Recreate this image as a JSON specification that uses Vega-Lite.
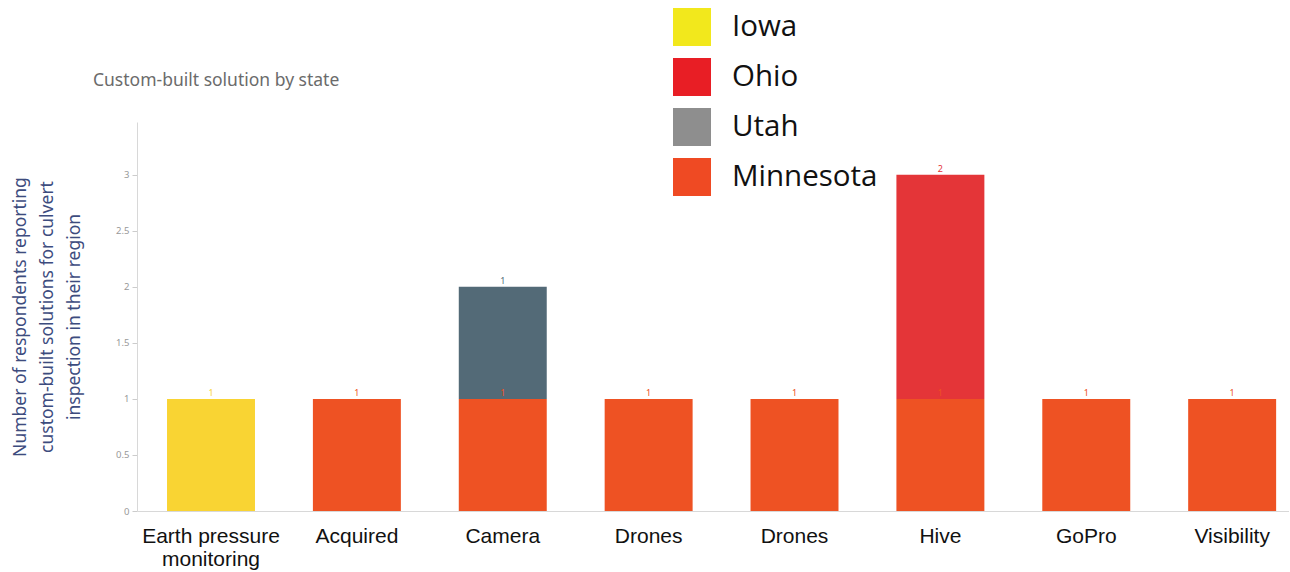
{
  "$schema": "https://vega.github.io/schema/vega-lite/v6.json",
  "width": 1152,
  "height": 389,
  "autosize": {"type": "none"},
  "padding": {"left": 137, "top": 122, "right": 0, "bottom": 61},
  "background": "white",
  "title": {
    "text": "Custom-built solution by state",
    "anchor": "start",
    "frame": "group",
    "dx": -44,
    "offset": 0,
    "dy": 95,
    "baseline": "alphabetic",
    "font": "Noto Sans",
    "fontSize": 17.5,
    "fontWeight": "normal",
    "color": "#6b6b6b"
  },
  "config": {"view": {"stroke": null}},
  "resolve": {"scale": {"color": "independent"}, "legend": {"color": "independent"}},
  "layer": [
    {
      "data": {"values": [
        {"item": "Earth pressure monitoring", "state": "Iowa", "count": 1, "ord": 1},
        {"item": "Acquired", "state": "Minnesota", "count": 1, "ord": 0},
        {"item": "Camera", "state": "Minnesota", "count": 1, "ord": 0},
        {"item": "Camera", "state": "Utah", "count": 1, "ord": 1},
        {"item": "Drones (1)", "state": "Minnesota", "count": 1, "ord": 0},
        {"item": "Drones (2)", "state": "Minnesota", "count": 1, "ord": 0},
        {"item": "Hive", "state": "Minnesota", "count": 1, "ord": 0},
        {"item": "Hive", "state": "Ohio", "count": 2, "ord": 1},
        {"item": "GoPro", "state": "Minnesota", "count": 1, "ord": 0},
        {"item": "Visibility", "state": "Minnesota", "count": 1, "ord": 0}
      ]},
      "encoding": {
        "x": {
          "field": "item", "type": "nominal",
          "sort": ["Earth pressure monitoring", "Acquired", "Camera", "Drones (1)", "Drones (2)", "Hive", "GoPro", "Visibility"],
          "scale": {"paddingInner": 0.397, "paddingOuter": 0.147, "align": 0.7},
          "axis": {
            "title": null,
            "labelAngle": 0,
            "labelExpr": "datum.value == 'Earth pressure monitoring' ? ['Earth pressure', 'monitoring'] : (indexof(datum.value, 'Drones') == 0 ? 'Drones' : datum.value)",
            "labelFont": "Liberation Sans",
            "labelFontSize": 21,
            "labelColor": "#111111",
            "labelLineHeight": 23,
            "labelPadding": 14,
            "labelLimit": 300,
            "ticks": false,
            "domainColor": "#d8d8d8",
            "grid": false
          }
        },
        "y": {
          "field": "count", "type": "quantitative", "stack": "zero",
          "scale": {"domain": [0, 3.47], "nice": false},
          "axis": {
            "values": [0, 0.5, 1, 1.5, 2, 2.5, 3],
            "format": "~g",
            "grid": false,
            "labelFont": "Noto Sans",
            "labelFontSize": 9.5,
            "labelColor": "#999999",
            "labelPadding": 3,
            "tickSize": 5,
            "tickColor": "#cccccc",
            "domainColor": "#d8d8d8",
            "title": ["Number of respondents reporting", "custom-built solutions for culvert", "inspection in their region"],
            "titleFont": "Noto Sans",
            "titleFontSize": 17.5,
            "titleFontWeight": "normal",
            "titleColor": "#3d4c7e",
            "titleLineHeight": 27,
            "titlePadding": 32
          }
        },
        "order": {"field": "ord", "type": "quantitative"}
      },
      "layer": [
        {
          "mark": {"type": "bar"},
          "encoding": {
            "color": {
              "field": "state", "type": "nominal",
              "scale": {"domain": ["Iowa", "Ohio", "Utah", "Minnesota"], "range": ["#F9D433", "#E43538", "#536A77", "#EE5223"]},
              "legend": null
            }
          }
        },
        {
          "mark": {"type": "text", "baseline": "alphabetic", "dy": -3, "font": "Noto Sans", "fontSize": 9},
          "encoding": {
            "text": {"field": "count", "type": "quantitative"},
            "color": {
              "field": "state", "type": "nominal",
              "scale": {"domain": ["Iowa", "Ohio", "Utah", "Minnesota"], "range": ["#E9A23B", "#E06060", "#8595a0", "#EE7A55"]},
              "legend": null
            }
          }
        }
      ]
    },
    {
      "data": {"values": [
        {"state": "Iowa"}, {"state": "Ohio"}, {"state": "Utah"}, {"state": "Minnesota"}
      ]},
      "mark": {"type": "text", "text": ""},
      "encoding": {
        "color": {
          "field": "state", "type": "nominal",
          "scale": {"domain": ["Iowa", "Ohio", "Utah", "Minnesota"], "range": ["#F2E81C", "#E81E25", "#8E8E8E", "#EF4A23"]},
          "legend": {
            "title": null,
            "orient": "none",
            "legendX": 536,
            "legendY": -114,
            "padding": 0,
            "symbolType": "square",
            "symbolSize": 1444,
            "symbolStrokeWidth": 0,
            "symbolOpacity": 1,
            "rowPadding": 12,
            "labelFont": "Open Sans",
            "labelFontSize": 29.5,
            "labelColor": "#111111",
            "labelOffset": 21,
            "labelLimit": 400
          }
        }
      }
    }
  ]
}
